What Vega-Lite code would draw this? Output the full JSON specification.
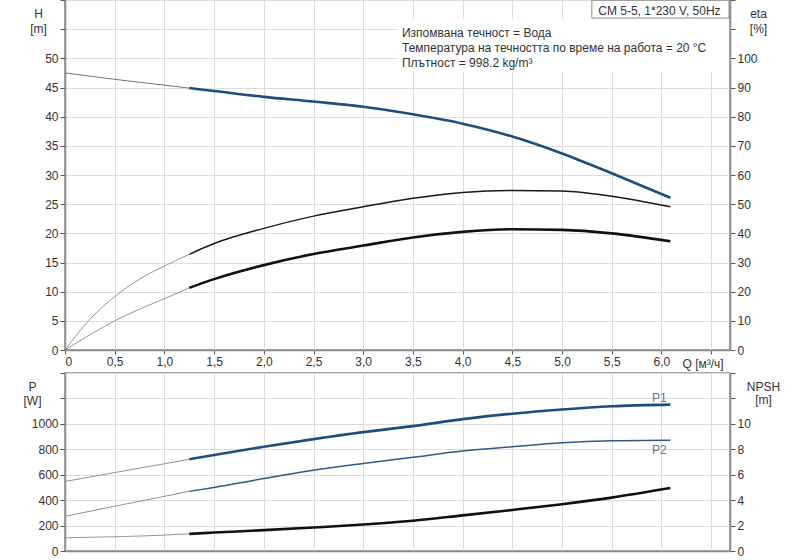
{
  "$schema": "https://vega.github.io/schema/vega-lite/v6.json",
  "background": "white",
  "padding": {"left": 22, "top": -2, "right": 5, "bottom": 0},
  "spacing": 1,
  "config": {
    "font": "Liberation Sans",
    "view": {"stroke": "#8c8c8c", "strokeWidth": 1.5},
    "axis": {
      "labelFontSize": 12, "labelColor": "#333333",
      "titleFontSize": 12, "titleFontWeight": "normal", "titleColor": "#333333",
      "domainColor": "#8c8c8c", "domainWidth": 1.5,
      "tickColor": "#555555", "tickSize": 5,
      "gridColor": "#dcdcdc", "gridWidth": 1
    }
  },
  "resolve": {"scale": {"color": "independent", "strokeWidth": "independent"}},
  "datasets": {
    "curves": [
      {"s": "H-a", "Q": 0, "v": 47.5}, {"s": "H-a", "Q": 0.5, "v": 46.4}, {"s": "H-a", "Q": 1.0, "v": 45.4}, {"s": "H-a", "Q": 1.25, "v": 44.9},
      {"s": "H-b", "Q": 1.25, "v": 44.9}, {"s": "H-b", "Q": 1.5, "v": 44.4}, {"s": "H-b", "Q": 2.0, "v": 43.4}, {"s": "H-b", "Q": 2.5, "v": 42.6},
      {"s": "H-b", "Q": 3.0, "v": 41.7}, {"s": "H-b", "Q": 3.5, "v": 40.4}, {"s": "H-b", "Q": 4.0, "v": 38.8}, {"s": "H-b", "Q": 4.5, "v": 36.6},
      {"s": "H-b", "Q": 5.0, "v": 33.7}, {"s": "H-b", "Q": 5.5, "v": 30.3}, {"s": "H-b", "Q": 6.09, "v": 26.1},

      {"s": "E1-a", "Q": 0, "v": 0}, {"s": "E1-a", "Q": 0.25, "v": 10.5}, {"s": "E1-a", "Q": 0.5, "v": 18.3}, {"s": "E1-a", "Q": 0.75, "v": 24.3},
      {"s": "E1-a", "Q": 1.0, "v": 28.8}, {"s": "E1-a", "Q": 1.25, "v": 32.8},
      {"s": "E1-b", "Q": 1.25, "v": 32.8}, {"s": "E1-b", "Q": 1.5, "v": 36.5}, {"s": "E1-b", "Q": 2.0, "v": 41.7}, {"s": "E1-b", "Q": 2.5, "v": 45.9},
      {"s": "E1-b", "Q": 3.0, "v": 49.1}, {"s": "E1-b", "Q": 3.5, "v": 52.0}, {"s": "E1-b", "Q": 4.0, "v": 54.0}, {"s": "E1-b", "Q": 4.5, "v": 54.7},
      {"s": "E1-b", "Q": 5.0, "v": 54.5}, {"s": "E1-b", "Q": 5.5, "v": 52.7}, {"s": "E1-b", "Q": 6.09, "v": 49.1},

      {"s": "E2-a", "Q": 0, "v": 0}, {"s": "E2-a", "Q": 0.25, "v": 5.2}, {"s": "E2-a", "Q": 0.5, "v": 10.0}, {"s": "E2-a", "Q": 0.75, "v": 14.0},
      {"s": "E2-a", "Q": 1.0, "v": 17.6}, {"s": "E2-a", "Q": 1.25, "v": 21.3},
      {"s": "E2-b", "Q": 1.25, "v": 21.3}, {"s": "E2-b", "Q": 1.5, "v": 24.3}, {"s": "E2-b", "Q": 2.0, "v": 29.1}, {"s": "E2-b", "Q": 2.5, "v": 32.9},
      {"s": "E2-b", "Q": 3.0, "v": 35.8}, {"s": "E2-b", "Q": 3.5, "v": 38.6}, {"s": "E2-b", "Q": 4.0, "v": 40.5}, {"s": "E2-b", "Q": 4.5, "v": 41.4},
      {"s": "E2-b", "Q": 5.0, "v": 41.2}, {"s": "E2-b", "Q": 5.5, "v": 40.0}, {"s": "E2-b", "Q": 6.09, "v": 37.3},

      {"s": "P1-a", "Q": 0, "v": 547}, {"s": "P1-a", "Q": 0.5, "v": 617}, {"s": "P1-a", "Q": 1.0, "v": 686}, {"s": "P1-a", "Q": 1.25, "v": 721},
      {"s": "P1-b", "Q": 1.25, "v": 721}, {"s": "P1-b", "Q": 1.5, "v": 755}, {"s": "P1-b", "Q": 2.0, "v": 820}, {"s": "P1-b", "Q": 2.5, "v": 880},
      {"s": "P1-b", "Q": 3.0, "v": 935}, {"s": "P1-b", "Q": 3.5, "v": 982}, {"s": "P1-b", "Q": 4.0, "v": 1037}, {"s": "P1-b", "Q": 4.5, "v": 1080},
      {"s": "P1-b", "Q": 5.0, "v": 1113}, {"s": "P1-b", "Q": 5.5, "v": 1138}, {"s": "P1-b", "Q": 6.09, "v": 1151},

      {"s": "P2-a", "Q": 0, "v": 273}, {"s": "P2-a", "Q": 0.5, "v": 352}, {"s": "P2-a", "Q": 1.0, "v": 430}, {"s": "P2-a", "Q": 1.25, "v": 469},
      {"s": "P2-b", "Q": 1.25, "v": 469}, {"s": "P2-b", "Q": 1.5, "v": 500}, {"s": "P2-b", "Q": 2.0, "v": 570}, {"s": "P2-b", "Q": 2.5, "v": 635},
      {"s": "P2-b", "Q": 3.0, "v": 688}, {"s": "P2-b", "Q": 3.5, "v": 737}, {"s": "P2-b", "Q": 4.0, "v": 786}, {"s": "P2-b", "Q": 4.5, "v": 820},
      {"s": "P2-b", "Q": 5.0, "v": 851}, {"s": "P2-b", "Q": 5.5, "v": 867}, {"s": "P2-b", "Q": 6.09, "v": 872},

      {"s": "N-a", "Q": 0, "v": 1.04}, {"s": "N-a", "Q": 0.5, "v": 1.12}, {"s": "N-a", "Q": 1.0, "v": 1.25}, {"s": "N-a", "Q": 1.25, "v": 1.35},
      {"s": "N-b", "Q": 1.25, "v": 1.35}, {"s": "N-b", "Q": 1.5, "v": 1.45}, {"s": "N-b", "Q": 2.0, "v": 1.64}, {"s": "N-b", "Q": 2.5, "v": 1.85},
      {"s": "N-b", "Q": 3.0, "v": 2.08}, {"s": "N-b", "Q": 3.5, "v": 2.38}, {"s": "N-b", "Q": 4.0, "v": 2.8}, {"s": "N-b", "Q": 4.5, "v": 3.23},
      {"s": "N-b", "Q": 5.0, "v": 3.68}, {"s": "N-b", "Q": 5.5, "v": 4.2}, {"s": "N-b", "Q": 6.09, "v": 4.95}
    ],
    "notes": [
      {"k": "bg", "Q": 3.35, "Q2": 6.68, "H": 47.6, "H2": 56.7},
      {"k": "box", "Q": 5.3, "Q2": 6.68, "H": 56.9, "H2": 59.95},
      {"k": "t", "Q": 3.39, "H": 54.4, "t": "Изпомвана течност = Вода"},
      {"k": "t", "Q": 3.39, "H": 51.7, "t": "Температура на течността по време на работа = 20 °C"},
      {"k": "t", "Q": 3.39, "H": 49.2, "t": "Плътност = 998.2 kg/m³"},
      {"k": "tc", "Q": 5.98, "H": 58.1, "t": "CM 5-5, 1*230 V, 50Hz"},
      {"k": "lab", "Q": 5.98, "P": 1203, "t": "P1"},
      {"k": "lab", "Q": 5.98, "P": 797, "t": "P2"}
    ]
  },
  "vconcat": [
    {
      "width": 665,
      "height": 350,
      "layer": [
        {
          "data": {"name": "notes"},
          "transform": [{"filter": "datum.k == 'bg'"}],
          "mark": {"type": "rect", "fill": "white"},
          "encoding": {
            "x": {"field": "Q", "type": "quantitative", "scale": {"domain": [0, 6.69], "nice": false},
              "axis": {
                "values": [0, 0.5, 1, 1.5, 2, 2.5, 3, 3.5, 4, 4.5, 5, 5.5, 6, 6.5],
                "labelExpr": "datum.value == 0 ? '0' : (datum.value > 6.2 ? '' : replace(format(datum.value, '.1f'), '.', ','))",
                "tickSize": 4, "grid": true,
                "title": "Q [м³/ч]", "titleAlign": "left", "titleBaseline": "middle", "titleX": 617, "titleY": 13
              }},
            "x2": {"field": "Q2"},
            "y": {"field": "H", "type": "quantitative", "scale": {"domain": [0, 60], "nice": false},
              "axis": {
                "values": [0, 5, 10, 15, 20, 25, 30, 35, 40, 45, 50, 55, 60],
                "labelExpr": "datum.value > 50 ? '' : datum.label",
                "grid": true,
                "title": ["H", "[m]"], "titleAngle": 0, "titleAlign": "center", "titleBaseline": "middle",
                "titleX": -27, "titleY": 13.2, "titleLineHeight": 15
              }},
            "y2": {"field": "H2"}
          }
        },
        {
          "data": {"name": "curves"},
          "transform": [{"filter": {"field": "s", "oneOf": ["H-a", "H-b"]}}],
          "mark": {"type": "line", "interpolate": "monotone"},
          "encoding": {
            "x": {"field": "Q", "type": "quantitative", "scale": {"domain": [0, 6.69], "nice": false}},
            "y": {"field": "v", "type": "quantitative", "scale": {"domain": [0, 60], "nice": false}, "axis": null},
            "color": {"field": "s", "type": "nominal", "legend": null,
              "scale": {"type": "ordinal", "domain": ["H-a", "H-b", "E1-a", "E1-b", "E2-a", "E2-b"],
                "range": ["#5b6672", "#1f4e7a", "#8a8a8a", "#1a1a1a", "#8a8a8a", "#111111"]}},
            "strokeWidth": {"field": "s", "type": "nominal", "legend": null,
              "scale": {"type": "ordinal", "domain": ["H-a", "H-b", "E1-a", "E1-b", "E2-a", "E2-b"],
                "range": [0.9, 2.6, 0.9, 1.5, 0.9, 2.6]}}
          }
        },
        {
          "data": {"name": "curves"},
          "transform": [{"filter": {"field": "s", "oneOf": ["E1-a", "E1-b", "E2-a", "E2-b"]}}],
          "mark": {"type": "line", "interpolate": "monotone"},
          "encoding": {
            "x": {"field": "Q", "type": "quantitative", "scale": {"domain": [0, 6.69], "nice": false}},
            "y": {"field": "v", "type": "quantitative", "scale": {"domain": [0, 120], "nice": false},
              "axis": {
                "orient": "right",
                "values": [0, 10, 20, 30, 40, 50, 60, 70, 80, 90, 100, 110, 120],
                "labelExpr": "datum.value > 100 ? '' : datum.label",
                "grid": false,
                "title": ["eta", "[%]"], "titleAngle": 0, "titleAlign": "center", "titleBaseline": "middle",
                "titleX": 28, "titleY": 13.2, "titleLineHeight": 15
              }},
            "color": {"field": "s", "type": "nominal", "legend": null,
              "scale": {"type": "ordinal", "domain": ["H-a", "H-b", "E1-a", "E1-b", "E2-a", "E2-b"],
                "range": ["#5b6672", "#1f4e7a", "#8a8a8a", "#1a1a1a", "#8a8a8a", "#111111"]}},
            "strokeWidth": {"field": "s", "type": "nominal", "legend": null,
              "scale": {"type": "ordinal", "domain": ["H-a", "H-b", "E1-a", "E1-b", "E2-a", "E2-b"],
                "range": [0.9, 2.6, 0.9, 1.5, 0.9, 2.6]}}
          }
        },
        {
          "data": {"name": "notes"},
          "transform": [{"filter": "datum.k == 'box'"}],
          "mark": {"type": "rect", "fill": "white", "stroke": "#8c8c8c", "strokeWidth": 1},
          "encoding": {
            "x": {"field": "Q", "type": "quantitative", "scale": {"domain": [0, 6.69], "nice": false}},
            "x2": {"field": "Q2"},
            "y": {"field": "H", "type": "quantitative", "scale": {"domain": [0, 60], "nice": false}, "axis": null},
            "y2": {"field": "H2"}
          }
        },
        {
          "data": {"name": "notes"},
          "transform": [{"filter": "datum.k == 't'"}],
          "mark": {"type": "text", "fontSize": 12, "color": "#333333", "baseline": "middle", "align": "left"},
          "encoding": {
            "x": {"field": "Q", "type": "quantitative", "scale": {"domain": [0, 6.69], "nice": false}},
            "y": {"field": "H", "type": "quantitative", "scale": {"domain": [0, 60], "nice": false}, "axis": null},
            "text": {"field": "t"}
          }
        },
        {
          "data": {"name": "notes"},
          "transform": [{"filter": "datum.k == 'tc'"}],
          "mark": {"type": "text", "fontSize": 12, "color": "#333333", "baseline": "middle", "align": "center"},
          "encoding": {
            "x": {"field": "Q", "type": "quantitative", "scale": {"domain": [0, 6.69], "nice": false}},
            "y": {"field": "H", "type": "quantitative", "scale": {"domain": [0, 60], "nice": false}, "axis": null},
            "text": {"field": "t"}
          }
        }
      ],
      "resolve": {"scale": {"y": "independent"}}
    },
    {
      "width": 665,
      "height": 178,
      "layer": [
        {
          "data": {"name": "curves"},
          "transform": [{"filter": {"field": "s", "oneOf": ["P1-a", "P1-b", "P2-a", "P2-b"]}}],
          "mark": {"type": "line", "interpolate": "monotone"},
          "encoding": {
            "x": {"field": "Q", "type": "quantitative", "scale": {"domain": [0, 6.69], "nice": false},
              "axis": {
                "values": [0, 0.5, 1, 1.5, 2, 2.5, 3, 3.5, 4, 4.5, 5, 5.5, 6, 6.5],
                "labels": false, "ticks": false, "title": null, "grid": true
              }},
            "y": {"field": "v", "type": "quantitative", "scale": {"domain": [0, 1400], "nice": false},
              "axis": {
                "values": [0, 200, 400, 600, 800, 1000, 1200, 1400],
                "labelExpr": "datum.value > 1000 ? '' : datum.label",
                "format": "d",
                "grid": true,
                "title": ["P", "[W]"], "titleAngle": 0, "titleAlign": "center", "titleBaseline": "middle",
                "titleX": -33, "titleY": 13.3, "titleLineHeight": 14.7
              }},
            "color": {"field": "s", "type": "nominal", "legend": null,
              "scale": {"type": "ordinal", "domain": ["P1-a", "P1-b", "P2-a", "P2-b", "N-a", "N-b"],
                "range": ["#7d8790", "#1f4e7a", "#7d8790", "#2a5b8a", "#8a8a8a", "#111111"]}},
            "strokeWidth": {"field": "s", "type": "nominal", "legend": null,
              "scale": {"type": "ordinal", "domain": ["P1-a", "P1-b", "P2-a", "P2-b", "N-a", "N-b"],
                "range": [0.9, 2.6, 0.9, 1.5, 0.9, 2.6]}}
          }
        },
        {
          "data": {"name": "curves"},
          "transform": [{"filter": {"field": "s", "oneOf": ["N-a", "N-b"]}}],
          "mark": {"type": "line", "interpolate": "monotone"},
          "encoding": {
            "x": {"field": "Q", "type": "quantitative", "scale": {"domain": [0, 6.69], "nice": false}},
            "y": {"field": "v", "type": "quantitative", "scale": {"domain": [0, 14], "nice": false},
              "axis": {
                "orient": "right",
                "values": [0, 2, 4, 6, 8, 10, 12, 14],
                "labelExpr": "datum.value > 10 ? '' : datum.label",
                "grid": false,
                "title": ["NPSH", "[m]"], "titleAngle": 0, "titleAlign": "center", "titleBaseline": "middle",
                "titleX": 33, "titleY": 13, "titleLineHeight": 13.5
              }},
            "color": {"field": "s", "type": "nominal", "legend": null,
              "scale": {"type": "ordinal", "domain": ["P1-a", "P1-b", "P2-a", "P2-b", "N-a", "N-b"],
                "range": ["#7d8790", "#1f4e7a", "#7d8790", "#2a5b8a", "#8a8a8a", "#111111"]}},
            "strokeWidth": {"field": "s", "type": "nominal", "legend": null,
              "scale": {"type": "ordinal", "domain": ["P1-a", "P1-b", "P2-a", "P2-b", "N-a", "N-b"],
                "range": [0.9, 2.6, 0.9, 1.5, 0.9, 2.6]}}
          }
        },
        {
          "data": {"name": "notes"},
          "transform": [{"filter": "datum.k == 'lab'"}],
          "mark": {"type": "text", "fontSize": 12, "color": "#4f7aa3", "baseline": "middle", "align": "center"},
          "encoding": {
            "x": {"field": "Q", "type": "quantitative", "scale": {"domain": [0, 6.69], "nice": false}},
            "y": {"field": "P", "type": "quantitative", "scale": {"domain": [0, 1400], "nice": false}, "axis": null},
            "text": {"field": "t"}
          }
        }
      ],
      "resolve": {"scale": {"y": "independent"}}
    }
  ]
}
